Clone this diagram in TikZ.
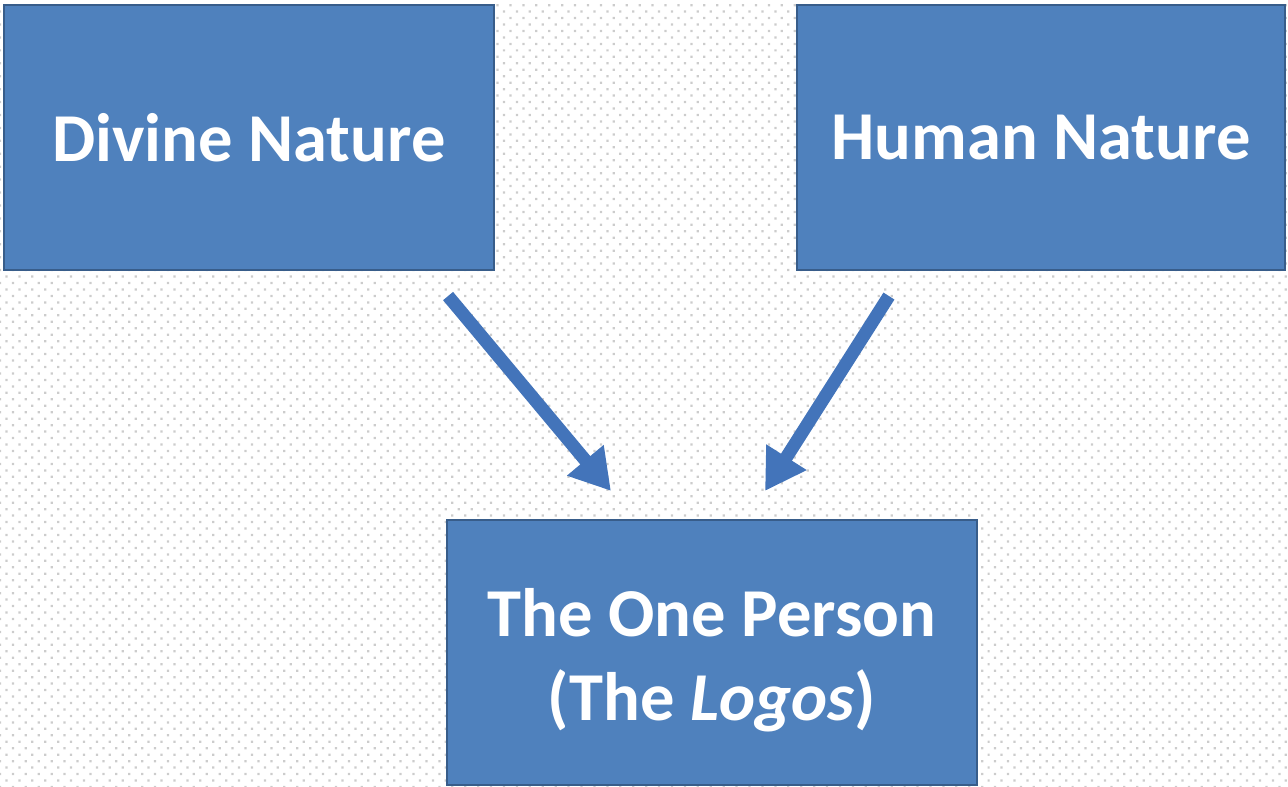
\documentclass[tikz,border=0pt]{standalone}
\usepackage{fontspec}
\setmainfont{Carlito}
\usetikzlibrary{arrows.meta,positioning,calc,patterns.meta}

\definecolor{boxblue}{HTML}{4F81BD}
\definecolor{boxedge}{HTML}{385D8A}
\definecolor{arrowblue}{HTML}{4374BA}

\tikzset{%
  >={Triangle[width=9mm,length=8mm]},
  % Specifications for style of nodes:
      base/.style = {rectangle, draw=boxedge, line width=1.2pt,
                     fill=boxblue, text=white, align=center,
                     minimum height=5.3cm,
                     font=\fontsize{39}{47.5}\selectfont\bfseries},
    nature/.style = {base, minimum width=9.8cm},
    person/.style = {base, minimum width=10.6cm},
   joining/.style = {->, draw=arrowblue, line width=7.4pt},
}

\begin{document}
\begin{tikzpicture}
\useasboundingbox (0,0) rectangle (25.76,-15.74);
\fill[pattern={Dots[angle=45,distance=5.2pt,radius=0.9pt]}, pattern color=gray!40]
  (0,0) rectangle (25.76,-15.74);

\node (Divine) [nature] at (4.98,-2.75)        {Divine Nature};

\node (Human)  [nature, minimum width=9.76cm] at (20.82,-2.75) {Human Nature};

\node (Person) [person] at (14.24,-13.05)
               {\rule{0pt}{36pt}The One Person\\(The \textit{Logos})};

\draw[joining] ($(Divine.south east)+(-0.94,-0.5)$) -- ($(Person.north west)+(3.3,0.56)$);
\draw[joining] ($(Human.south west)+(1.86,-0.5)$)   -- ($(Person.north)+(1.06,0.56)$);
\end{tikzpicture}
\end{document}
